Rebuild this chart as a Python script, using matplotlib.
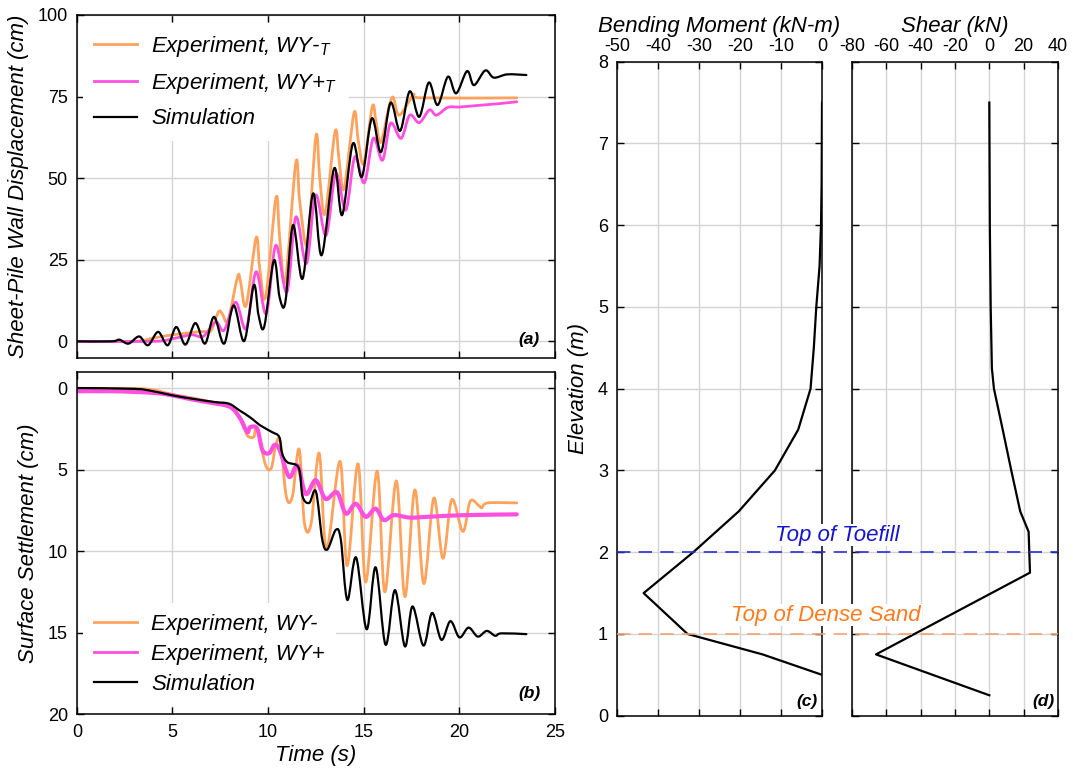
import matplotlib
matplotlib.use('Agg')
import numpy as np
import matplotlib.pyplot as plt
from matplotlib.lines import Line2D
from matplotlib.path import Path
from matplotlib.patches import PathPatch
import matplotlib.transforms as mtransforms

plt.rcParams['font.family'] = ['Liberation Sans', 'DejaVu Sans']
plt.rcParams['mathtext.fontset'] = 'custom'
plt.rcParams['mathtext.it'] = 'Liberation Sans:italic'
plt.rcParams['mathtext.rm'] = 'Liberation Sans'
plt.rcParams['axes.unicode_minus'] = False

# ---------------- data: (a) wall displacement (cm) ----------------
t_sim_disp = [0, 1.8, 2.23, 2.7, 3.26, 3.72, 4.25, 4.75, 5.2, 5.68, 6.2, 6.7, 7.17, 7.7,
              8.2, 8.75, 9.25, 9.5, 9.8, 10.3, 10.6, 10.9, 11.3, 11.8, 12.35, 12.8, 13.45,
              13.87, 14.43, 14.9, 15.42, 15.9, 16.4, 16.9, 17.4, 17.9, 18.4, 18.86, 19.4,
              19.83, 20.4, 20.76, 21.35, 21.8, 22.5, 23.5]
v_sim_disp = [0, 0, 0.5, -0.7, 1.5, -1.2, 2.9, -1.2, 4.4, -1.0, 5.6, -0.7, 7.5, -0.7,
              11, 0.1, 17.2, 8, 4.6, 24.8, 13.5, 12, 35.6, 19.2, 45.3, 26.4, 53,
              38.7, 60.6, 50.4, 68.3, 58, 73.1, 64.5, 76.6, 68.8, 79.3, 72.4, 81.1,
              76, 82.8, 78.5, 83.0, 80.8, 81.8, 81.6]

t_exm_disp = [0, 3.0, 4.0, 5.0, 6.5, 7.0, 7.4, 7.6, 7.9, 8.4, 8.55, 8.85, 9.37, 9.55, 9.87,
              10.41, 10.6, 10.9, 11.45, 11.65, 12.05, 12.5, 12.7, 12.98, 13.5, 13.7, 13.97,
              14.49, 14.7, 15.0, 15.45, 15.65, 15.9, 16.47, 16.85, 17.6, 18.0, 23.0]
v_exm_disp = [0, 0, 1, 2, 3, 3.2, 9, 8.5, 6.4, 19.7, 18.5, 11, 31.7, 23, 13.6,
              44, 32, 18.7, 54.8, 43, 30, 63, 50, 39.2, 64.3, 56, 46.8,
              70, 62, 54.5, 72, 67, 61.1, 74.7, 69.3, 75.5, 74.6, 74.6]

t_exp_disp = [0, 4.0, 5.0, 6.0, 6.6, 7.26, 7.7, 8.3, 8.85, 9.37, 9.9, 10.4, 10.98, 11.45,
              12.0, 12.48, 13.03, 13.54, 14.06, 14.53, 15.03, 15.5, 15.98, 16.4, 16.95,
              17.4, 17.9, 18.43, 18.8, 19.4, 20.0, 21.0, 22.0, 23.0]
v_exp_disp = [0, 0, 0.8, 2, 1.5, 5.9, 3.4, 12, 3.9, 21.3, 8.5, 29.4, 15.1, 38.1,
              23.8, 44.8, 32.5, 51.4, 40.2, 56.5, 48.6, 62.2, 55.5, 66.8, 62.2,
              69.3, 67, 70.9, 69.3, 71.7, 71.8, 72.3, 72.8, 73.4]

# ---------------- data: (b) surface settlement (cm) ----------------
t_sim_set = [0, 3.0, 4.0, 5.0, 6.0, 7.2, 7.95, 8.5, 9.06, 9.6, 10.2, 10.58, 10.73, 11.0,
             11.6, 11.8, 12.15, 12.5, 12.83, 13.1, 13.54, 13.8, 14.14, 14.6, 15.15, 15.62,
             16.14, 16.63, 17.15, 17.55, 18.12, 18.57, 19.06, 19.53, 20.0, 20.48, 20.96,
             21.43, 21.87, 22.2, 23.5]
v_sim_set = [0, 0.05, 0.2, 0.45, 0.65, 0.86, 0.96, 1.37, 1.8, 2.3, 2.7, 3.0, 4.0, 4.55,
             4.9, 6.65, 7.05, 6.35, 9.3, 9.9, 8.7, 9.3, 13.0, 10.4, 14.8, 11.0,
             15.75, 12.4, 15.85, 13.4, 15.8, 13.8, 15.45, 14.3, 15.3, 14.7, 15.25,
             14.9, 15.2, 15.05, 15.1]

t_exm_set = [0, 3.5, 5.0, 6.0, 7.0, 8.0, 8.7, 8.9, 9.25, 9.4, 9.86, 10.17, 10.4, 10.64,
             10.95, 11.27, 11.62, 11.9, 12.25, 12.67, 13.05, 13.76, 14.13, 14.7, 15.1,
             15.7, 16.1, 16.7, 17.15, 17.67, 18.14, 18.66, 19.14, 19.6, 20.18, 20.56,
             21.0, 21.17, 21.48, 23.0]
v_exm_set = [0.05, 0.05, 0.4, 0.6, 0.85, 1.1, 2.1, 2.9, 3.0, 2.4, 4.7, 4.9, 3.5, 3.3,
             6.65, 6.65, 3.75, 8.3, 8.3, 4.0, 9.9, 4.5, 10.9, 4.65, 11.9,
             5.1, 12.5, 5.7, 12.8, 6.25, 12.0, 6.75, 10.45, 6.85, 8.8, 6.95,
             7.2, 7.35, 7.05, 7.05]

t_exp_set = [0, 2.0, 4.0, 5.0, 6.0, 7.0, 8.0, 8.5, 8.9, 9.06, 9.43, 9.7, 10.05, 10.33,
             10.6, 11.1, 11.54, 11.97, 12.49, 13.0, 13.6, 14.06, 14.58, 15.1, 15.62,
             16.05, 16.57, 17.4, 18.36, 20.2, 23.0]
v_exp_set = [0.2, 0.2, 0.3, 0.45, 0.7, 0.9, 1.16, 1.8, 2.7, 2.4, 2.5, 3.8, 4.0, 3.5,
             3.8, 5.45, 4.75, 6.5, 5.65, 6.8, 6.4, 7.7, 7.1, 7.9, 7.4,
             8.1, 7.8, 7.95, 7.9, 7.8, 7.75]

# ---------------- data: (c) bending moment, (d) shear ----------------
elev_moment = [7.5, 7.0, 6.5, 6.0, 5.5, 5.0, 4.5, 4.0, 3.5, 3.0, 2.5, 2.0, 1.5, 1.0, 0.75, 0.5]
moment = [0.0, -0.05, -0.1, -0.25, -0.6, -1.4, -2.0, -2.8, -5.8, -11.5, -20.3, -31.4,
          -43.5, -32.8, -14.5, 0.0]

elev_shear = [7.5, 7.0, 6.0, 5.0, 4.25, 4.0, 3.5, 3.0, 2.5, 2.25, 1.75, 0.75, 0.25]
shear = [0.0, 0.1, 0.3, 0.8, 1.5, 2.7, 7.8, 12.8, 18.0, 22.9, 23.7, -66.0, 0.0]

toefill_elev = 2.0
dense_sand_elev = 1.0

# ---------------- styling ----------------
C_ORANGE = '#FFA35C'
C_MAGENTA = '#FF4FDF'
C_BLACK = 'black'
FS_TICK = 13
FS_LABEL = 16

fig = plt.figure(figsize=(10.73, 7.72), dpi=100)
ax_a = fig.add_axes([0.0716, 0.5367, 0.4457, 0.4439])
ax_b = fig.add_axes([0.0716, 0.0751, 0.4457, 0.4434])
ax_c = fig.add_axes([0.575, 0.0729, 0.1911, 0.8472])
ax_d = fig.add_axes([0.794, 0.0729, 0.192, 0.8472])


def style(ax):
    ax.grid(True, color='#d4d4d4', lw=1.0)
    ax.set_axisbelow(True)
    ax.tick_params(direction='in', length=5, width=1.0, top=True, right=True,
                   bottom=True, left=True, labelsize=FS_TICK)
    ax.tick_params(axis='y', pad=6.5)
    ax.tick_params(axis='x', pad=7)
    for s in ax.spines.values():
        s.set_linewidth(1.1)


def smooth_line(ax, x, y, color, lw, zorder=2):
    """Draw a smooth curve through the given points (Catmull-Rom as cubic Bezier)."""
    x = np.asarray(x, float)
    y = np.asarray(y, float)
    n = len(x)
    verts = [(x[0], y[0])]
    codes = [Path.MOVETO]
    for i in range(n - 1):
        i0 = max(i - 1, 0)
        i3 = min(i + 2, n - 1)
        c1 = (x[i] + (x[i + 1] - x[i0]) / 6.0, y[i] + (y[i + 1] - y[i0]) / 6.0)
        c2 = (x[i + 1] - (x[i3] - x[i]) / 6.0, y[i + 1] - (y[i3] - y[i]) / 6.0)
        verts += [c1, c2, (x[i + 1], y[i + 1])]
        codes += [Path.CURVE4] * 3
    ax.add_patch(PathPatch(Path(verts, codes), fill=False, edgecolor=color, lw=lw,
                           joinstyle='round', capstyle='round', zorder=zorder))


for ax in (ax_a, ax_b, ax_c, ax_d):
    style(ax)

leg_kw = dict(borderaxespad=0, borderpad=0.5, handlelength=1.95, handletextpad=0.65,
              frameon=True, fancybox=False, framealpha=1, edgecolor='none',
              facecolor='white', prop={'style': 'italic', 'size': FS_LABEL})

# (a)
smooth_line(ax_a, t_exm_disp, v_exm_disp, C_ORANGE, 2.0)
smooth_line(ax_a, t_exp_disp, v_exp_disp, C_MAGENTA, 2.0)
smooth_line(ax_a, t_sim_disp, v_sim_disp, C_BLACK, 1.6)
ax_a.set_xlim(0, 25)
ax_a.set_ylim(-5, 100)
ax_a.set_xticks([0, 5, 10, 15, 20, 25])
ax_a.set_yticks([0, 25, 50, 75, 100])
ax_a.tick_params(labelbottom=False)
ax_a.set_ylabel('Sheet-Pile Wall Displacement (cm)', fontsize=FS_LABEL, fontstyle='italic', labelpad=6)
h_a = [Line2D([], [], color=C_ORANGE, lw=2.0), Line2D([], [], color=C_MAGENTA, lw=2.0),
       Line2D([], [], color=C_BLACK, lw=1.6)]
leg_a = ax_a.legend(h_a, [r'Experiment, WY-$_T$', r'Experiment, WY+$_T$', 'Simulation'],
                    loc='upper left', bbox_to_anchor=(0.012, 0.977), labelspacing=0.55, **leg_kw)
leg_a.set_zorder(1.5)
ax_a.text(0.967, 0.052, '(a)', transform=ax_a.transAxes, ha='right', va='center',
          fontsize=12.5, fontweight='bold', fontstyle='italic')

# (b)
smooth_line(ax_b, t_exm_set, v_exm_set, C_ORANGE, 2.0)
smooth_line(ax_b, t_exp_set, v_exp_set, C_MAGENTA, 3.0)
smooth_line(ax_b, t_sim_set, v_sim_set, C_BLACK, 1.6)
ax_b.set_xlim(0, 25)
ax_b.set_ylim(20, -1)
ax_b.set_xticks([0, 5, 10, 15, 20, 25])
ax_b.set_yticks([0, 5, 10, 15, 20])
ax_b.set_xlabel('Time (s)', fontsize=FS_LABEL, fontstyle='italic', labelpad=3)
ax_b.set_ylabel('Surface Settlement (cm)', fontsize=FS_LABEL, fontstyle='italic', labelpad=6)
h_b = [Line2D([], [], color=C_ORANGE, lw=2.0), Line2D([], [], color=C_MAGENTA, lw=2.0),
       Line2D([], [], color=C_BLACK, lw=1.6)]
leg_b = ax_b.legend(h_b, ['Experiment, WY-', 'Experiment, WY+', 'Simulation'],
                    loc='lower left', bbox_to_anchor=(0.012, 0.023), labelspacing=0.4, **leg_kw)
leg_b.set_zorder(1.5)
ax_b.text(0.97, 0.061, '(b)', transform=ax_b.transAxes, ha='right', va='center',
          fontsize=12.5, fontweight='bold', fontstyle='italic')

# (c)
ax_c.plot(moment, elev_moment, color=C_BLACK, lw=1.6)
ax_c.set_xlim(-50, 0)
ax_c.set_ylim(0, 8)
ax_c.set_xticks([-50, -40, -30, -20, -10, 0])
ax_c.set_yticks(range(0, 9))
ax_c.tick_params(labeltop=True, labelbottom=False)
ax_c.tick_params(axis='x', pad=5)
ax_c.xaxis.set_label_position('top')
ax_c.set_xlabel('Bending Moment (kN-m)', fontsize=FS_LABEL, fontstyle='italic', labelpad=4)
ax_c.set_ylabel('Elevation (m)', fontsize=FS_LABEL, fontstyle='italic', labelpad=6)
ax_c.text(0.98, 0.021, '(c)', transform=ax_c.transAxes, ha='right', va='center',
          fontsize=12.5, fontweight='bold', fontstyle='italic')

# (d)
ax_d.plot(shear, elev_shear, color=C_BLACK, lw=1.6)
ax_d.set_xlim(-80, 40)
ax_d.set_ylim(0, 8)
ax_d.set_xticks([-80, -60, -40, -20, 0, 20, 40])
ax_d.set_yticks(range(0, 9))
ax_d.tick_params(labeltop=True, labelbottom=False, labelleft=False)
ax_d.tick_params(axis='x', pad=5)
ax_d.xaxis.set_label_position('top')
ax_d.set_xlabel('Shear (kN)', fontsize=FS_LABEL, fontstyle='italic', labelpad=4)
ax_d.text(0.985, 0.021, '(d)', transform=ax_d.transAxes, ha='right', va='center',
          fontsize=12.5, fontweight='bold', fontstyle='italic')

# layer lines spanning (c) and (d)
tr = mtransforms.blended_transform_factory(fig.transFigure, ax_c.transData)
x0 = 617 / 1073
x1 = 1058 / 1073
fig.add_artist(Line2D([x0, x1], [toefill_elev, toefill_elev], transform=tr,
                      color='#2B2BD9', lw=1.2, linestyle=(0, (8, 5))))
fig.add_artist(Line2D([x0, x1], [dense_sand_elev, dense_sand_elev], transform=tr,
                      color='#F2A472', lw=1.2, linestyle=(0, (8, 5))))
fig.text(3.66, 2.21, 'Top of Toefill', transform=ax_c.transData, ha='center', va='center',
         fontsize=FS_LABEL, fontstyle='italic', color='#1515D0',
         bbox=dict(facecolor='white', edgecolor='none', pad=0.5))
fig.text(0.98, 1.23, 'Top of Dense Sand', transform=ax_c.transData, ha='center', va='center',
         fontsize=FS_LABEL, fontstyle='italic', color='#FF7A1F',
         bbox=dict(facecolor='white', edgecolor='none', pad=0.5))

fig.savefig('out.png', dpi=100)
